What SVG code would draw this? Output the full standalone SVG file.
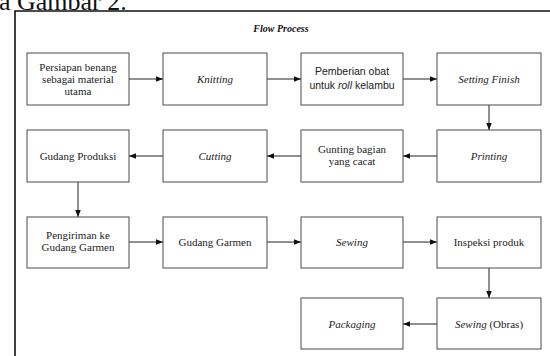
<svg xmlns="http://www.w3.org/2000/svg" width="550" height="356" viewBox="0 0 550 356">
<style>
.box{fill:#fff;stroke:#4a4a4a;stroke-width:1}
.t{font-family:"Liberation Serif","Times New Roman",serif;font-size:11px;fill:#222;text-anchor:middle}
.s{font-family:"Liberation Sans",Arial,sans-serif;font-size:10.5px;fill:#222;text-anchor:middle}
.i{font-style:italic}
.c{stroke:#222;stroke-width:1;fill:none;marker-end:url(#ah)}
</style>
<defs>
<marker id="ah" viewBox="0 0 10 10" refX="10" refY="5" markerWidth="7" markerHeight="7" markerUnits="userSpaceOnUse" orient="auto">
<path d="M0,1 L10,5 L0,9 z" fill="#111"/>
</marker>
</defs>
<rect x="0" y="0" width="550" height="356" fill="#fff"/>
<text x="-1" y="10" font-family="Liberation Serif,'Times New Roman',serif" font-size="26" fill="#111">a Gambar 2.</text>
<path d="M15,356 V11 H550" fill="none" stroke="#111" stroke-width="1.6"/>
<text x="281" y="32" font-family="Liberation Serif,'Times New Roman',serif" font-size="10" font-weight="bold" font-style="italic" text-anchor="middle" fill="#111">Flow Process</text>
<g id="connectors">
<line class="c" x1="129" y1="79" x2="163" y2="79"/>
<line class="c" x1="267" y1="79" x2="301" y2="79"/>
<line class="c" x1="403" y1="79" x2="437" y2="79"/>
<line class="c" x1="489" y1="105" x2="489" y2="130"/>
<line class="c" x1="437" y1="156" x2="403" y2="156"/>
<line class="c" x1="301" y1="156" x2="267" y2="156"/>
<line class="c" x1="163" y1="156" x2="129" y2="156"/>
<line class="c" x1="78" y1="182" x2="78" y2="217"/>
<line class="c" x1="129" y1="242" x2="163" y2="242"/>
<line class="c" x1="267" y1="242" x2="301" y2="242"/>
<line class="c" x1="403" y1="242" x2="437" y2="242"/>
<line class="c" x1="489" y1="268" x2="489" y2="298"/>
<line class="c" x1="437" y1="324" x2="403" y2="324"/>
</g>
<g id="n1"><rect class="box" x="27" y="53" width="102" height="52"/>
<text class="t" x="78" y="71">Persiapan benang</text><text class="t" x="78" y="83">sebagai material</text><text class="t" x="78" y="95">utama</text></g>
<g id="n2"><rect class="box" x="163" y="53" width="104" height="52"/>
<text class="t i" x="215" y="83">Knitting</text></g>
<g id="n3"><rect class="box" x="301" y="53" width="102" height="52"/>
<text class="s" x="352" y="75">Pemberian obat</text><text class="s" x="352" y="89">untuk <tspan font-style="italic">roll</tspan> kelambu</text></g>
<g id="n4"><rect class="box" x="437" y="53" width="104" height="52"/>
<text class="t i" x="489" y="83">Setting Finish</text></g>
<g id="n5"><rect class="box" x="437" y="130" width="104" height="52"/>
<text class="t i" x="489" y="160">Printing</text></g>
<g id="n6"><rect class="box" x="301" y="130" width="102" height="52"/>
<text class="t" x="352" y="153">Gunting bagian</text><text class="t" x="352" y="165">yang cacat</text></g>
<g id="n7"><rect class="box" x="163" y="130" width="104" height="52"/>
<text class="t i" x="215" y="160">Cutting</text></g>
<g id="n8"><rect class="box" x="27" y="130" width="102" height="52"/>
<text class="t" x="78" y="160">Gudang Produksi</text></g>
<g id="n9"><rect class="box" x="27" y="217" width="102" height="51"/>
<text class="t" x="78" y="239">Pengiriman ke</text><text class="t" x="78" y="251">Gudang Garmen</text></g>
<g id="n10"><rect class="box" x="163" y="217" width="104" height="51"/>
<text class="t" x="215" y="246">Gudang Garmen</text></g>
<g id="n11"><rect class="box" x="301" y="217" width="102" height="51"/>
<text class="t i" x="352" y="246">Sewing</text></g>
<g id="n12"><rect class="box" x="437" y="217" width="104" height="51"/>
<text class="t" x="489" y="246">Inspeksi produk</text></g>
<g id="n13"><rect class="box" x="437" y="298" width="104" height="51"/>
<text class="t" x="489" y="328"><tspan font-style="italic">Sewing</tspan> (Obras)</text></g>
<g id="n14"><rect class="box" x="301" y="298" width="102" height="51"/>
<text class="t i" x="352" y="328">Packaging</text></g>
</svg>
